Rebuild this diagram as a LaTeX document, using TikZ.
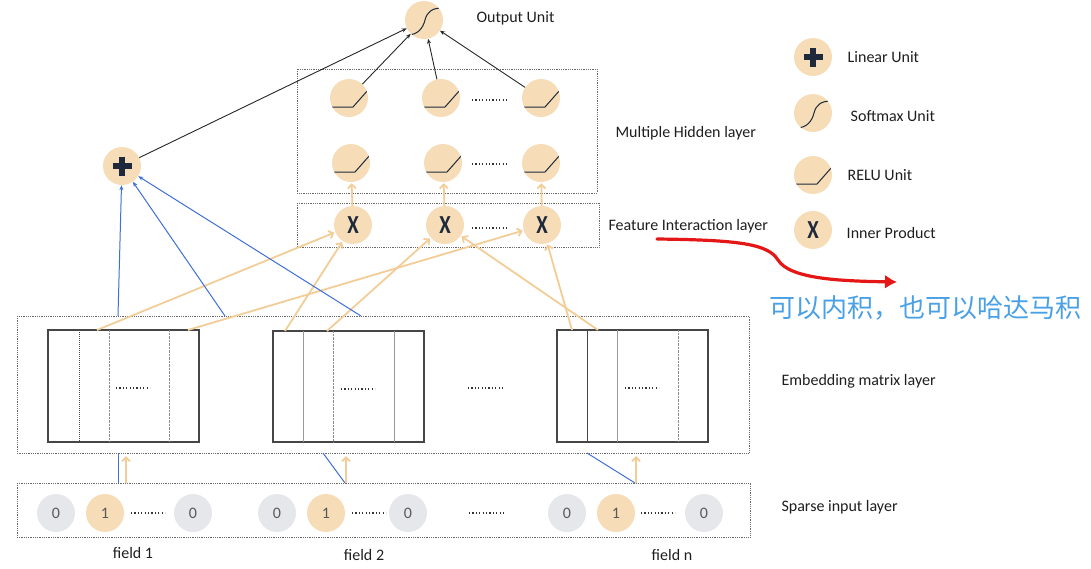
\documentclass[tikz,border=0pt]{standalone}
\usepackage{fontspec}
\setmainfont{Carlito}
\newfontfamily\cjk{Noto Sans CJK SC}
\usetikzlibrary{positioning, arrows.meta}

\definecolor{unitfill}{RGB}{246,221,183}
\definecolor{bitgray}{RGB}{230,231,234}
\definecolor{feedcol}{RGB}{242,205,152}
\definecolor{linkcol}{RGB}{62,110,214}
\definecolor{boxgray}{RGB}{105,105,105}
\definecolor{matgray}{RGB}{70,70,70}
\definecolor{symcol}{RGB}{30,42,60}
\definecolor{txtcol}{RGB}{30,30,30}
\definecolor{cjkcol}{RGB}{74,160,228}
\definecolor{hintred}{RGB}{228,22,22}

\begin{document}
\begin{tikzpicture}[x=1pt, y=-1pt, font=\fontsize{16}{18}\selectfont, text=txtcol,
  unit/.style={circle, fill=unitfill, minimum size=38, inner sep=0pt},
  relu/.style={unit, path picture={\draw[line width=1pt, symcol,
      shift={(path picture bounding box.center)}] (-19,9) -- (4,9) -- (19,-8);}},
  sigm/.style={unit, path picture={\draw[line width=1pt, symcol,
      shift={(path picture bounding box.center)}] (-17,15) .. controls (-6,15) and (-1,8) .. (1,0)
      .. controls (3,-8) and (8,-12) .. (18,-12);}},
  plus/.style={unit, path picture={\draw[line width=6pt, symcol,
      shift={(path picture bounding box.center)}] (-9.5,0) -- (9.5,0) (0,-9.5) -- (0,9.5);}},
  prod/.style={unit, text=symcol, font=\bfseries\fontsize{26}{26}\selectfont},
  bit/.style={circle, fill=bitgray, minimum size=38, inner sep=0pt, text=black!65},
  hot/.style={bit, fill=unitfill},
  layer/.style={draw=boxgray, densely dotted, line width=0.8pt},
  mat/.style={draw=matgray, line width=1.1pt},
  dots/.style={draw=black!80, line width=1.1pt, dash pattern=on 1.1pt off 2.3pt},
  wire/.style={draw=black!85, line width=0.9pt, -{Stealth[length=5pt,width=4pt]}},
  link/.style={draw=linkcol, line width=1pt, -{Stealth[length=5pt,width=4pt]}},
  feed/.style={draw=feedcol, line width=1.8pt, -{Straight Barb[length=4pt,width=8pt]}, shorten >=1pt}]
\useasboundingbox (0,0) rectangle (1091,568);

% layer boxes
\draw[layer] (297,69) rectangle (597,193);
\draw[layer] (297,203) rectangle (599,247);
\draw[layer] (17,316) rectangle (749,453);
\draw[layer] (17,483) rectangle (750,537);

% output and hidden units
\node[sigm] (out) at (424,20) {};
\node[anchor=west] (outtxt) at (473,18) {Output Unit};
\node[relu] (h11) at (349,98) {};
\node[relu] (h12) at (441,98) {};
\node[relu] (h13) at (541,98) {};
\node[relu] (h21) at (351,163) {};
\node[relu] (h22) at (443,163) {};
\node[relu] (h23) at (541,163) {};
\node[prod] (p1) at (353,225) {\scalebox{0.8}[1]{X}};
\node[prod] (p2) at (445,225) {\scalebox{0.8}[1]{X}};
\node[prod] (p3) at (542,225) {\scalebox{0.8}[1]{X}};
\node[plus] (lin) at (122,166) {};
\draw[dots] (472,100) -- (507,100);
\draw[dots] (472,164) -- (507,164);
\draw[dots] (472,228) -- (507,228);
\node[anchor=west] (hidtxt) at (612,133) {Multiple Hidden layer};
\node[anchor=west] (featxt) at (605,226) {Feature Interaction layer};

% legend
\node[plus] (lg1) at (813,57) {};
\node[sigm] (lg2) at (813,113) {};
\node[relu] (lg3) at (813,175) {};
\node[prod] (lg4) at (813,230) {\scalebox{0.8}[1]{X}};
\node[right=12pt of lg1] (lg1txt) {Linear Unit};
\node[right=15pt of lg2, yshift=-3pt] (lg2txt) {Softmax Unit};
\node[right=12pt of lg3] (lg3txt) {RELU Unit};
\node[right=11pt of lg4, yshift=-3pt] (lg4txt) {Inner Product};

% embedding matrices
\draw[mat] (48,330) rectangle (199,442);
\draw[matgray, densely dotted, line width=1pt] (79,330) -- (79,442);
\draw[black!45, densely dotted] (109,330) -- (109,442) (169,330) -- (169,442);
\draw[dots] (116,388) -- (150,388);
\draw[mat] (273,331) rectangle (424,442);
\draw[black!40, line width=1pt] (303,331) -- (303,442) (394,331) -- (394,442);
\draw[black!45, densely dotted] (333,331) -- (333,442);
\draw[dots] (341,389) -- (375,389);
\draw[dots] (468,388) -- (503,388);
\draw[mat] (557,330) rectangle (708,442);
\draw[matgray, line width=1pt] (587,330) -- (587,442);
\draw[black!40, line width=1pt] (617,330) -- (617,442);
\draw[black!45, densely dotted] (678,330) -- (678,442);
\draw[dots] (625,388) -- (659,388);
\node[anchor=west] (embtxt) at (778,381) {Embedding matrix layer};

% sparse input
\node[bit] (f11) at (56,513) {0};
\node[hot] (f12) at (105,513) {1};
\node[bit] (f13) at (193,513) {0};
\node[bit] (f21) at (277,513) {0};
\node[hot] (f22) at (326,513) {1};
\node[bit] (f23) at (408,513) {0};
\node[bit] (fn1) at (567,513) {0};
\node[hot] (fn2) at (616,513) {1};
\node[bit] (fn3) at (704,513) {0};
\draw[dots] (f12) ++(26,0) -- ++(34,0);
\draw[dots] (f22) ++(26,0) -- ++(34,0);
\draw[dots] (469,513) -- (504,513);
\draw[dots] (fn2) ++(25,0) -- ++(34,0);
\node (fld1) at (133,553) {field 1};
\node (fld2) at (364,555) {field 2};
\node (fldn) at (672,555) {field n};
\node[anchor=west] (spatxt) at (778,507) {Sparse input layer};

% connectors
\coordinate (e1) at (118,316);
\coordinate (e2) at (225,316);
\coordinate (e3) at (361,316);
\coordinate (a1) at (97,330);
\coordinate (a2) at (188,330);
\coordinate (b1) at (285,331);
\coordinate (b2) at (327,331);
\coordinate (c1) at (572,330);
\coordinate (c2) at (598,330);
\coordinate (s1) at (118,483);
\coordinate (s2) at (345,483);
\coordinate (s3) at (635,483);
\coordinate (t1) at (118,453);
\coordinate (t2) at (323,453);
\coordinate (t3) at (587,453);
\coordinate (u1) at (126,483);
\coordinate (u2) at (346,483);
\coordinate (u3) at (636,483);
\coordinate (v1) at (126,455);
\coordinate (v2) at (346,455);
\coordinate (v3) at (636,455);

\draw[wire] (lin) -- (out);
\draw[wire] (h11) -- (out);
\draw[wire] (h12) -- (out);
\draw[wire] (h13) -- (out);
\draw[feed] (p1) -- (h21);
\draw[feed] (p2) -- (h22);
\draw[feed] (p3) -- (h23);
\draw[feed] (a1) -- (p1);
\draw[feed] (b1) -- (p1);
\draw[feed] (b2) -- (p2);
\draw[feed] (c2) -- (p2);
\draw[feed] (a2) -- (p3);
\draw[feed] (c1) -- (p3);
\draw[link] (e1) -- (lin);
\draw[link] (e2) -- (lin);
\draw[link] (e3) -- (lin);
\draw[link, -] (s1) -- (t1);
\draw[link, -] (s2) -- (t2);
\draw[link, -] (s3) -- (t3);
\draw[feed] (u1) -- (v1);
\draw[feed] (u2) -- (v2);
\draw[feed] (u3) -- (v3);

% note
\coordinate (r0) at (657,239);
\coordinate (r1) at (897,282);
\draw[hintred, line width=3.2pt, line cap=round, -{Latex[length=12pt,width=14pt]}]
  (r0) .. controls (740,240) and (768,244) .. (778,260)
  .. controls (790,279) and (840,281) .. (r1);
\node[text=cjkcol, font=\cjk\fontsize{26}{28}\selectfont] (note) at (925,308) {可以内积，也可以哈达马积};
\end{tikzpicture}
\end{document}
